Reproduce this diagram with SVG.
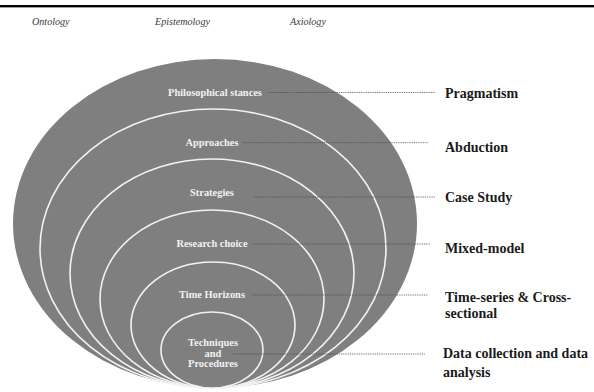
<svg xmlns="http://www.w3.org/2000/svg" width="594" height="392" viewBox="0 0 594 392">
  <style>
    text { font-family: "Liberation Serif", "DejaVu Serif", "Times New Roman", serif; }
    .head { font-style: italic; font-size: 10.1px; fill: #3a3a3a; }
    .ring { fill: #7f7f7f; stroke: #f2f2f2; stroke-width: 1.6; }
    .outer { fill: #7f7f7f; stroke: none; }
    .inlabel { font-weight: bold; font-size: 10.4px; fill: #f2f2f2; text-anchor: middle; }
    .outlabel { font-weight: bold; font-size: 14px; fill: #1a1a1a; }
    .leader { stroke: #4d4d4d; stroke-width: 0.8; stroke-dasharray: 1 0.8; fill: none; }
  </style>

  <!-- top rule -->
  <rect x="0" y="5" width="594" height="2.4" fill="#000"/>

  <!-- column headings -->
  <text class="head" x="32" y="25">Ontology</text>
  <text class="head" x="155" y="25">Epistemology</text>
  <text class="head" x="290" y="25">Axiology</text>

  <!-- nested layers of the onion -->
  <g id="layer-philosophy">
    <ellipse class="outer" cx="215" cy="223.5" rx="202" ry="164.5"/>
    <text class="inlabel" x="215" y="96">Philosophical stances</text>
  </g>
  <g id="layer-approaches">
    <ellipse class="ring" cx="213" cy="248.5" rx="173" ry="139.5"/>
    <text class="inlabel" x="212" y="146">Approaches</text>
  </g>
  <g id="layer-strategies">
    <ellipse class="ring" cx="212" cy="273.5" rx="142" ry="114.5"/>
    <text class="inlabel" x="212" y="196">Strategies</text>
  </g>
  <g id="layer-choice">
    <ellipse class="ring" cx="212" cy="299" rx="112" ry="89"/>
    <text class="inlabel" x="212" y="247">Research choice</text>
  </g>
  <g id="layer-time">
    <ellipse class="ring" cx="213" cy="325" rx="82" ry="63"/>
    <text class="inlabel" x="212" y="298">Time Horizons</text>
  </g>
  <g id="layer-techniques">
    <ellipse class="ring" cx="212" cy="350" rx="51" ry="38"/>
    <text class="inlabel" x="213" y="345.5">Techniques</text>
    <text class="inlabel" x="213" y="356.5">and</text>
    <text class="inlabel" x="213" y="367">Procedures</text>
  </g>

  <!-- dotted leaders to the chosen options -->
  <g id="connectors">
    <line class="leader" x1="269" y1="92.5" x2="435" y2="92.5"/>
    <line class="leader" x1="243" y1="142.7" x2="428" y2="142.7"/>
    <line class="leader" x1="254" y1="197" x2="435" y2="197"/>
    <line class="leader" x1="253" y1="244" x2="430" y2="244"/>
    <line class="leader" x1="253" y1="295" x2="428" y2="295"/>
    <line class="leader" x1="233" y1="354" x2="425" y2="354"/>
  </g>

  <!-- chosen options -->
  <g id="opt-pragmatism"><text class="outlabel" x="445" y="98">Pragmatism</text></g>
  <g id="opt-abduction"><text class="outlabel" x="445" y="152">Abduction</text></g>
  <g id="opt-case"><text class="outlabel" x="445" y="202">Case Study</text></g>
  <g id="opt-mixed"><text class="outlabel" x="445" y="253">Mixed-model</text></g>
  <g id="opt-time">
    <text class="outlabel" x="445" y="302">Time-series &amp; Cross-</text>
    <text class="outlabel" x="445" y="318">sectional</text>
  </g>
  <g id="opt-data">
    <text class="outlabel" x="443" y="358">Data collection and data</text>
    <text class="outlabel" x="443" y="377">analysis</text>
  </g>
</svg>
